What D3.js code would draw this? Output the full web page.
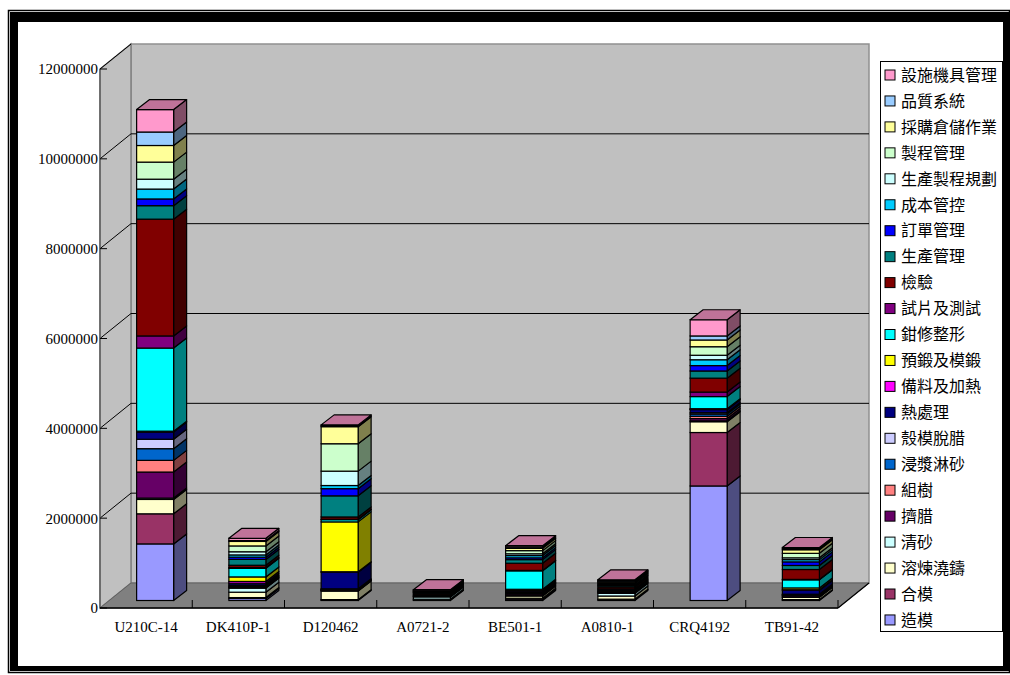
<!DOCTYPE html>
<html>
<head>
<meta charset="utf-8">
<script src="https://cdn.jsdelivr.net/npm/d3@7"></script>
<style>
  body { margin: 0; background: #fff; }
  svg text { font-family: "Liberation Serif", "Times New Roman", serif; }
  .legend text { font-family: "Noto Sans CJK TC", sans-serif; }
</style>
</head>
<body>
<svg id="chart" width="1010" height="675"></svg>
<script>
// categories on the x axis
const categories = ['U210C-14', 'DK410P-1', 'D120462', 'A0721-2', 'BE501-1', 'A0810-1', 'CRQ4192', 'TB91-42'];

// series, bottom of the stack first
const seriesNames = ['造模', '合模', '溶煉澆鑄', '清砂', '擠腊', '組樹', '浸漿淋砂', '殼模脫腊', '熱處理', '備料及加熱',
  '預鍛及模鍛', '鉗修整形', '試片及測試', '檢驗', '生產管理', '訂單管理', '成本管控', '生產製程規劃', '製程管理',
  '採購倉儲作業', '品質系統', '設施機具管理'];
const seriesColors = ['#9999FF', '#993366', '#FFFFCC', '#CCFFFF', '#660066', '#FF8080', '#0066CC', '#CCCCFF', '#000080', '#FF00FF',
  '#FFFF00', '#00FFFF', '#800080', '#800000', '#008080', '#0000FF', '#00CCFF', '#CCFFFF', '#CCFFCC',
  '#FFFF99', '#99CCFF', '#FF99CC'];

// values per series, one entry per category
const zaoMo       = [1260000, 45000, 10000, 10000, 30000, 20000, 2550000, 10000];
const heMo        = [670000, 20000, 10000, 0, 20000, 10000, 1190000, 10000];
const rongLian    = [320000, 120000, 190000, 20000, 50000, 70000, 240000, 50000];
const qingSha     = [30000, 90000, 10000, 50000, 20000, 60000, 20000, 10000];
const jiLa        = [580000, 15000, 10000, 10000, 30000, 20000, 50000, 30000];
const zuShu       = [260000, 15000, 10000, 0, 10000, 0, 50000, 10000];
const jinJiang    = [260000, 20000, 10000, 0, 10000, 10000, 50000, 10000];
const keMo        = [210000, 20000, 10000, 0, 10000, 0, 30000, 10000];
const reChuLi     = [160000, 40000, 370000, 20000, 30000, 20000, 70000, 90000];
const beiLiao     = [10000, 40000, 10000, 0, 10000, 0, 10000, 10000];
const yuDuan      = [10000, 100000, 1110000, 0, 30000, 10000, 10000, 40000];
const qianXiu     = [1850000, 190000, 50000, 20000, 410000, 30000, 270000, 180000];
const shiPian     = [270000, 20000, 10000, 0, 10000, 10000, 100000, 10000];
const jianYan     = [2600000, 50000, 50000, 30000, 160000, 40000, 310000, 220000];
const shengChan   = [300000, 130000, 470000, 20000, 80000, 30000, 160000, 90000];
const dingDan     = [150000, 50000, 160000, 10000, 40000, 20000, 120000, 80000];
const chengBen    = [220000, 50000, 70000, 0, 50000, 20000, 130000, 50000];
const zhiChengGui = [220000, 70000, 320000, 10000, 40000, 20000, 100000, 40000];
const zhiCheng    = [380000, 130000, 610000, 20000, 70000, 20000, 190000, 100000];
const caiGou      = [370000, 100000, 380000, 10000, 50000, 20000, 150000, 80000];
const pinZhi      = [300000, 20000, 20000, 0, 30000, 10000, 90000, 25000];
const sheShi      = [500000, 50000, 20000, 10000, 30000, 20000, 360000, 25000];

const yTicks = [0, 2000000, 4000000, 6000000, 8000000, 10000000, 12000000];

const seriesValues = [zaoMo, heMo, rongLian, qingSha, jiLa, zuShu, jinJiang, keMo, reChuLi, beiLiao, yuDuan,
  qianXiu, shiPian, jianYan, shengChan, dingDan, chengBen, zhiChengGui, zhiCheng, caiGou, pinZhi, sheShi];

const svg = d3.select('#chart');

// frame
svg.append('rect').attr('x', 8.5).attr('y', 10.5).attr('width', 1001).attr('height', 662)
  .style('fill', 'none').style('stroke', '#000').style('stroke-width', 1.5);
svg.append('rect').attr('x', 10).attr('y', 12).attr('width', 1000).attr('height', 659).style('fill', '#000');
svg.append('rect').attr('x', 18).attr('y', 22).attr('width', 985).attr('height', 644).style('fill', '#fff');

const x = d3.scaleBand().domain(categories).range([100, 838]);
const y = d3.scaleLinear().domain([0, 12000000]).range([608, 69]);

const dx = 31, dy = -25;        // floor depth
const bdx = 13, bdy = -10;      // bar depth
const offX = 9, offY = -7.5;    // bar placed mid-depth
const barW = 37;

const plot = svg.append('g');
const poly = pts => pts.map(p => p.join(',')).join(' ');

// walls and floor
plot.append('polygon')
  .attr('points', poly([[100 + dx, y(12000000) + dy], [838 + dx, y(12000000) + dy], [838 + dx, y(0) + dy], [100 + dx, y(0) + dy]]))
  .style('fill', '#c0c0c0').style('stroke', '#909090').style('stroke-width', 1.5);
plot.append('polygon')
  .attr('points', poly([[100, y(12000000)], [100 + dx, y(12000000) + dy], [100 + dx, y(0) + dy], [100, y(0)]]))
  .style('fill', '#c0c0c0').style('stroke', '#808080').style('stroke-width', 1.5);

// gridlines on back wall and side wall
plot.selectAll('line.grid')
  .data(yTicks.filter(d => d > 0 && d < 12000000))
  .enter()
  .append('line')
  .classed('grid', true)
  .attr('x1', 100 + dx).attr('x2', 838 + dx)
  .attr('y1', d => y(d) + dy).attr('y2', d => y(d) + dy)
  .style('stroke', '#000').style('stroke-width', 1);
plot.selectAll('line.sgrid')
  .data(yTicks.filter(d => d > 0))
  .enter()
  .append('line')
  .classed('sgrid', true)
  .attr('x1', 100).attr('x2', 100 + dx)
  .attr('y1', d => y(d)).attr('y2', d => y(d) + dy)
  .style('stroke', '#000').style('stroke-width', 1);

plot.append('polygon')
  .attr('points', poly([[100, y(0)], [838, y(0)], [838 + dx, y(0) + dy], [100 + dx, y(0) + dy]]))
  .style('fill', '#808080').style('stroke', '#606060').style('stroke-width', 1);
plot.append('line')
  .attr('x1', 838).attr('y1', y(0)).attr('x2', 838 + dx).attr('y2', y(0) + dy)
  .style('stroke', '#000').style('stroke-width', 1.2);

// value axis
plot.append('line').attr('x1', 100).attr('x2', 100).attr('y1', y(12000000)).attr('y2', y(0))
  .style('stroke', '#606060').style('stroke-width', 1.5);
plot.selectAll('line.ytick')
  .data(yTicks)
  .enter()
  .append('line')
  .attr('x1', 100).attr('x2', 107)
  .attr('y1', d => y(d)).attr('y2', d => y(d))
  .style('stroke', '#000').style('stroke-width', 1);
plot.selectAll('text.ylab')
  .data(yTicks)
  .enter()
  .append('text')
  .attr('x', 98).attr('y', d => y(d)).attr('dy', '0.36em')
  .attr('text-anchor', 'end')
  .style('font-size', '15px')
  .text(d => d);

// category axis
plot.append('line').attr('x1', 100).attr('x2', 838).attr('y1', y(0)).attr('y2', y(0))
  .style('stroke', '#000').style('stroke-width', 1.5);
plot.selectAll('line.xtick')
  .data(categories)
  .enter()
  .append('line')
  .attr('x1', d => x(d) + x.bandwidth()).attr('x2', d => x(d) + x.bandwidth())
  .attr('y1', y(0) - 8).attr('y2', y(0))
  .style('stroke', '#000').style('stroke-width', 1);
plot.selectAll('text.xlab')
  .data(categories)
  .enter()
  .append('text')
  .attr('x', d => x(d) + x.bandwidth() / 2).attr('y', 632)
  .attr('text-anchor', 'middle')
  .style('font-size', '15px')
  .text(d => d);

// stacked 3d bars
const table = categories.map((c, i) => {
  const row = { cat: c };
  seriesNames.forEach((s, j) => { row[s] = seriesValues[j][i]; });
  return row;
});
const stacked = d3.stack().keys(seriesNames)(table);

function shade(c, k) {
  const r = d3.rgb(c);
  return d3.rgb(r.r * k, r.g * k, r.b * k).formatHex();
}

const bars = plot.append('g');
categories.forEach((c, i) => {
  const xl = x(c) + x.bandwidth() / 2 + offX - barW / 2;
  const xr = xl + barW;
  const g = bars.append('g');
  stacked.forEach((layer, j) => {
    const d = layer[i];
    if (d[1] === d[0]) return;
    const y0 = y(d[0]) + offY, y1 = y(d[1]) + offY;
    g.append('polygon')
      .attr('points', poly([[xr, y1], [xr + bdx, y1 + bdy], [xr + bdx, y0 + bdy], [xr, y0]]))
      .style('fill', shade(seriesColors[j], 0.5))
      .style('stroke', '#000').style('stroke-width', 1.2).style('stroke-linejoin', 'round');
    g.append('rect')
      .attr('x', xl).attr('y', y1).attr('width', barW).attr('height', y0 - y1)
      .style('fill', seriesColors[j])
      .style('stroke', '#000').style('stroke-width', 1.2);
  });
  const top = stacked[stacked.length - 1][i][1];
  const yt = y(top) + offY;
  g.append('polygon')
    .attr('points', poly([[xl, yt], [xl + bdx, yt + bdy], [xr + bdx, yt + bdy], [xr, yt]]))
    .style('fill', shade(seriesColors[seriesColors.length - 1], 0.75))
    .style('stroke', '#000').style('stroke-width', 1.2).style('stroke-linejoin', 'round');
});

// legend
const legend = svg.append('g').classed('legend', true);
legend.append('rect').attr('x', 880.5).attr('y', 61.5).attr('width', 122).attr('height', 570)
  .style('fill', '#fff').style('stroke', '#000').style('stroke-width', 1);
const legendItems = seriesNames.map((s, j) => ({ name: s, color: seriesColors[j] })).reverse();
const item = legend.selectAll('g.item')
  .data(legendItems)
  .enter()
  .append('g')
  .attr('transform', (d, i) => `translate(0,${75 + i * 25.95})`);
item.append('rect')
  .attr('x', 885).attr('y', -5).attr('width', 10).attr('height', 10)
  .style('fill', d => d.color).style('stroke', '#000').style('stroke-width', 1);
item.append('text')
  .attr('x', 901).attr('dy', '0.36em')
  .style('font-size', '16px')
  .style('fill', '#000')
  .text(d => d.name);
</script>
</body>
</html>
